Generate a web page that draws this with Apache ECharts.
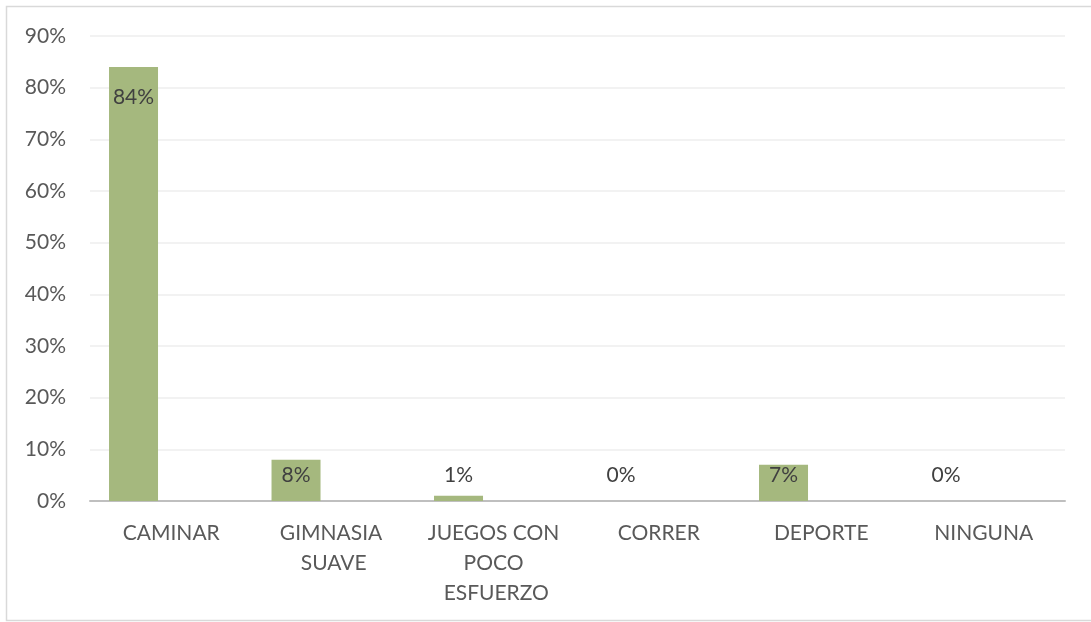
<!DOCTYPE html>
<html>
<head>
<meta charset="utf-8">
<style>
  html, body { margin: 0; padding: 0; background: #ffffff; }
  #chart { width: 1091px; height: 622px; }
</style>
<script src="https://cdn.jsdelivr.net/npm/echarts@6/dist/echarts.min.js"></script>
</head>
<body>
<div id="chart"></div>
<script>
// Actividad física preferida (porcentaje de respuestas)
const categories = ['CAMINAR', 'GIMNASIA SUAVE', 'JUEGOS CON POCO ESFUERZO', 'CORRER', 'DEPORTE', 'NINGUNA'];
const values = [84, 8, 1, 0, 7, 0];
const yTicks = { min: 0, max: 90, step: 10 };

const TEXT = '#595959';
const FONT = 'Lato, "Open Sans", sans-serif';
const SIZE = 21;

// Tall bars get their label just inside the top; short ones sit a fixed height above the axis
function labelFor(v) {
  if (v >= 20) return { position: 'insideTop', distance: 20 };
  return { position: 'insideBottom', distance: 15 };
}

const chart = echarts.init(document.getElementById('chart'), null, { renderer: 'canvas' });

chart.setOption({
  animation: false,
  backgroundColor: '#ffffff',
  graphic: [{
    type: 'rect',
    shape: { x: 6.5, y: 6.5, width: 1100, height: 614 },
    style: { fill: 'none', stroke: '#d9d9d9', lineWidth: 1.5 },
    silent: true,
    z: -1
  }],
  grid: { left: 90, right: 26, top: 36, bottom: 121, containLabel: false },
  xAxis: {
    type: 'category',
    data: categories,
    axisLine: { show: true, lineStyle: { color: '#bfbfbf', width: 2 } },
    axisTick: { show: false },
    axisLabel: {
      color: TEXT,
      fontFamily: FONT,
      fontSize: SIZE,
      margin: 17,
      lineHeight: 30,
      width: 142,
      overflow: 'break',
      interval: 0
    }
  },
  yAxis: {
    type: 'value',
    min: yTicks.min,
    max: yTicks.max,
    interval: yTicks.step,
    axisLine: { show: false },
    axisTick: { show: false },
    splitLine: { lineStyle: { color: '#eeeeee', width: 1.5 } },
    axisLabel: {
      color: TEXT,
      fontFamily: FONT,
      fontSize: SIZE,
      margin: 24,
      formatter: '{value}%'
    }
  },
  series: [
    {
      type: 'bar',
      barWidth: 49,
      barGap: '54%',
      data: values.map(v => ({
        value: v,
        label: Object.assign({
          show: true,
          color: '#404040',
          fontFamily: FONT,
          fontSize: SIZE,
          formatter: '{c}%'
        }, labelFor(v))
      })),
      itemStyle: { color: '#a5b87e' }
    },
    {
      // empty companion series: keeps each bar in the left half of its category
      type: 'bar',
      barWidth: 49,
      data: []
    }
  ]
});
</script>
</body>
</html>
